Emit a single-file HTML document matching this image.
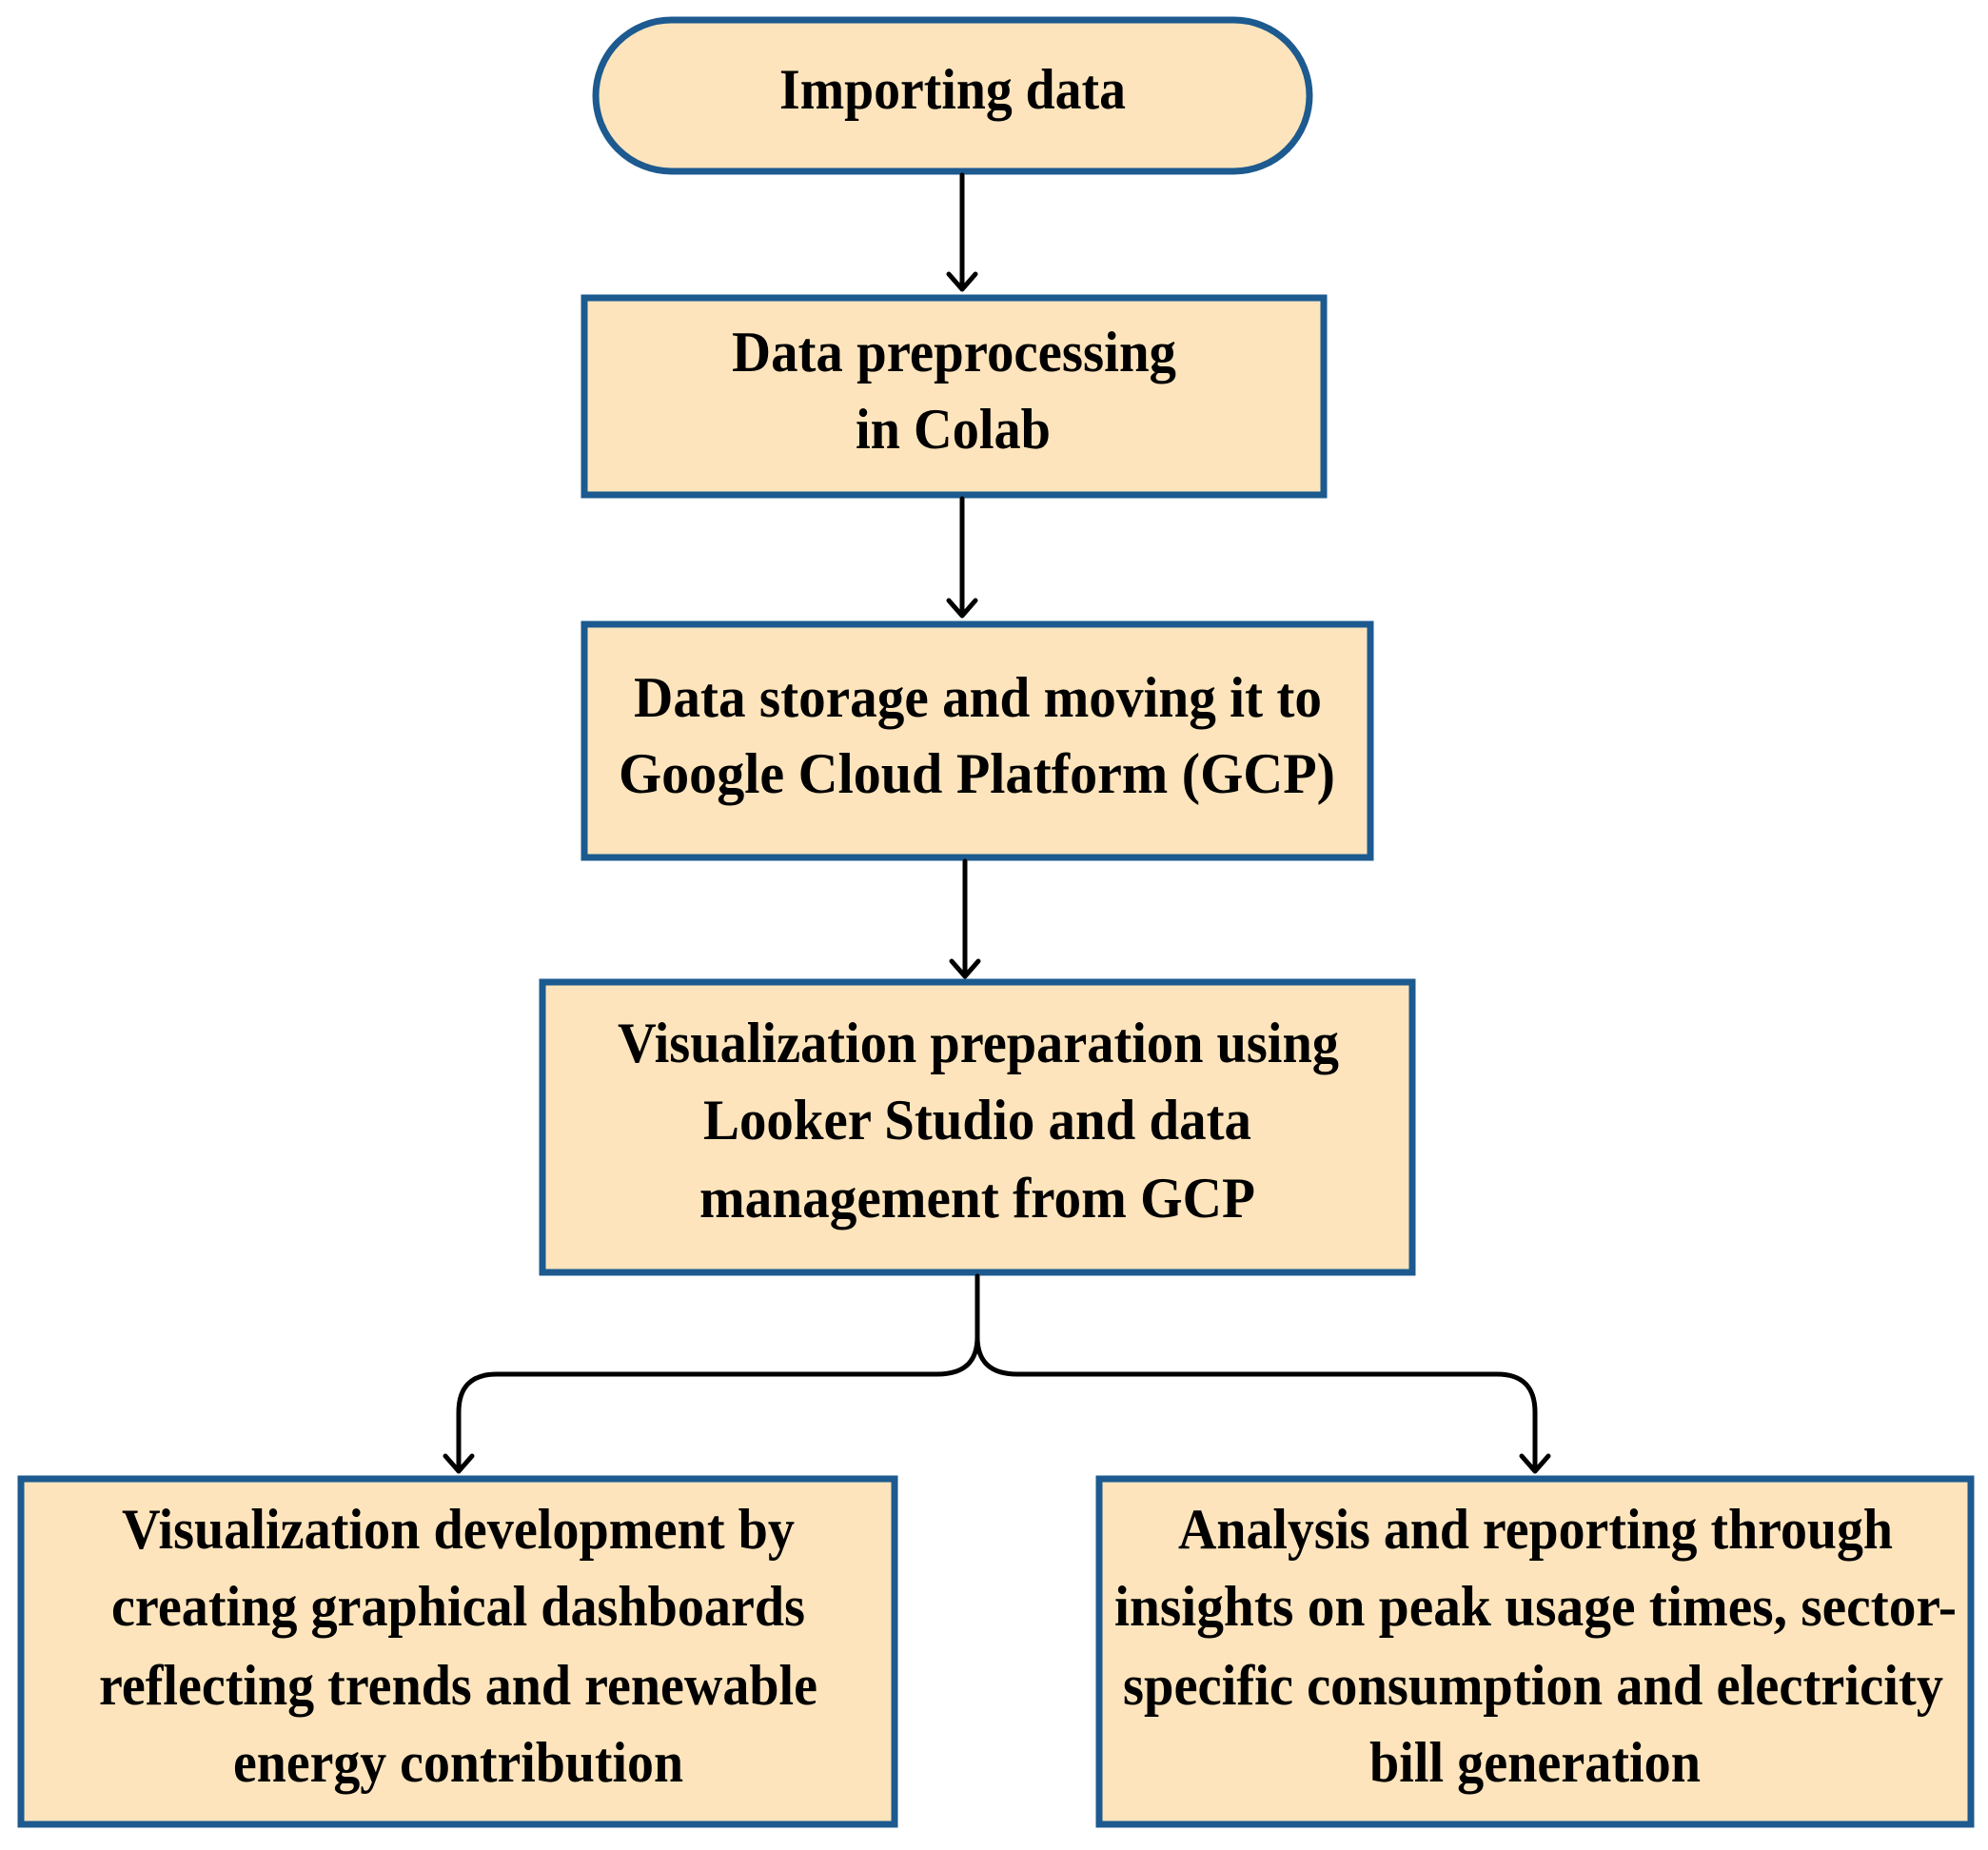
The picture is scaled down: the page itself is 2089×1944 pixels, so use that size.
<!DOCTYPE html>
<html><head><meta charset="utf-8"><style>html,body{margin:0;padding:0;background:#fff}svg{display:block}</style></head>
<body>
<svg width="2089" height="1944" viewBox="0 0 2089 1944" xmlns="http://www.w3.org/2000/svg">
<g fill="#fde4bc" stroke="#1c5a8f" stroke-width="7">
<rect x="626" y="21" width="750" height="159" rx="79.5" ry="79.5"/>
<rect x="614" y="313" width="777" height="207"/>
<rect x="614" y="656" width="826" height="245"/>
<rect x="570" y="1032" width="914" height="305"/>
<rect x="22" y="1554" width="918" height="363"/>
<rect x="1155" y="1554" width="916" height="363"/>
</g>
<g fill="none" stroke="#000" stroke-width="5" stroke-linecap="round" stroke-linejoin="round">
<path d="M1011 184 V304 M997 288 L1011 304 L1025 288"/>
<path d="M1011 524 V647 M997 631 L1011 647 L1025 631"/>
<path d="M1014 905 V1026 M1000 1010 L1014 1026 L1028 1010"/>
<path d="M1027 1341 V1405 Q1027 1444 985 1444 H522 Q482 1444 482 1484 V1546 M468 1530 L482 1546 L496 1530"/>
<path d="M1027 1405 Q1027 1444 1069 1444 H1573 Q1613 1444 1613 1484 V1546 M1599 1530 L1613 1546 L1627 1530"/>
</g>
<g font-family="Liberation Serif, serif" font-weight="bold" font-size="60" fill="#000" lengthAdjust="spacingAndGlyphs">
<text x="819" y="114" textLength="364" lengthAdjust="spacingAndGlyphs">Importing data</text>
<text x="769" y="390" textLength="467" lengthAdjust="spacingAndGlyphs">Data preprocessing</text>
<text x="899" y="471" textLength="205" lengthAdjust="spacingAndGlyphs">in Colab</text>
<text x="666" y="753" textLength="723" lengthAdjust="spacingAndGlyphs">Data storage and moving it to</text>
<text x="650" y="833" textLength="753" lengthAdjust="spacingAndGlyphs">Google Cloud Platform (GCP)</text>
<text x="649" y="1116" textLength="758" lengthAdjust="spacingAndGlyphs">Visualization preparation using</text>
<text x="739" y="1197" textLength="576" lengthAdjust="spacingAndGlyphs">Looker Studio and data</text>
<text x="735" y="1279" textLength="584" lengthAdjust="spacingAndGlyphs">management from GCP</text>
<text x="128" y="1627" textLength="707" lengthAdjust="spacingAndGlyphs">Visualization development by</text>
<text x="117" y="1708" textLength="729" lengthAdjust="spacingAndGlyphs">creating graphical dashboards</text>
<text x="104" y="1791" textLength="755" lengthAdjust="spacingAndGlyphs">reflecting trends and renewable</text>
<text x="245" y="1872" textLength="473" lengthAdjust="spacingAndGlyphs">energy contribution</text>
<text x="1238" y="1627" textLength="751" lengthAdjust="spacingAndGlyphs">Analysis and reporting through</text>
<text x="1171" y="1708" textLength="885" lengthAdjust="spacingAndGlyphs">insights on peak usage times, sector-</text>
<text x="1180" y="1791" textLength="862" lengthAdjust="spacingAndGlyphs">specific consumption and electricity</text>
<text x="1439" y="1872" textLength="348" lengthAdjust="spacingAndGlyphs">bill generation</text>
</g>
</svg>
</body></html>
